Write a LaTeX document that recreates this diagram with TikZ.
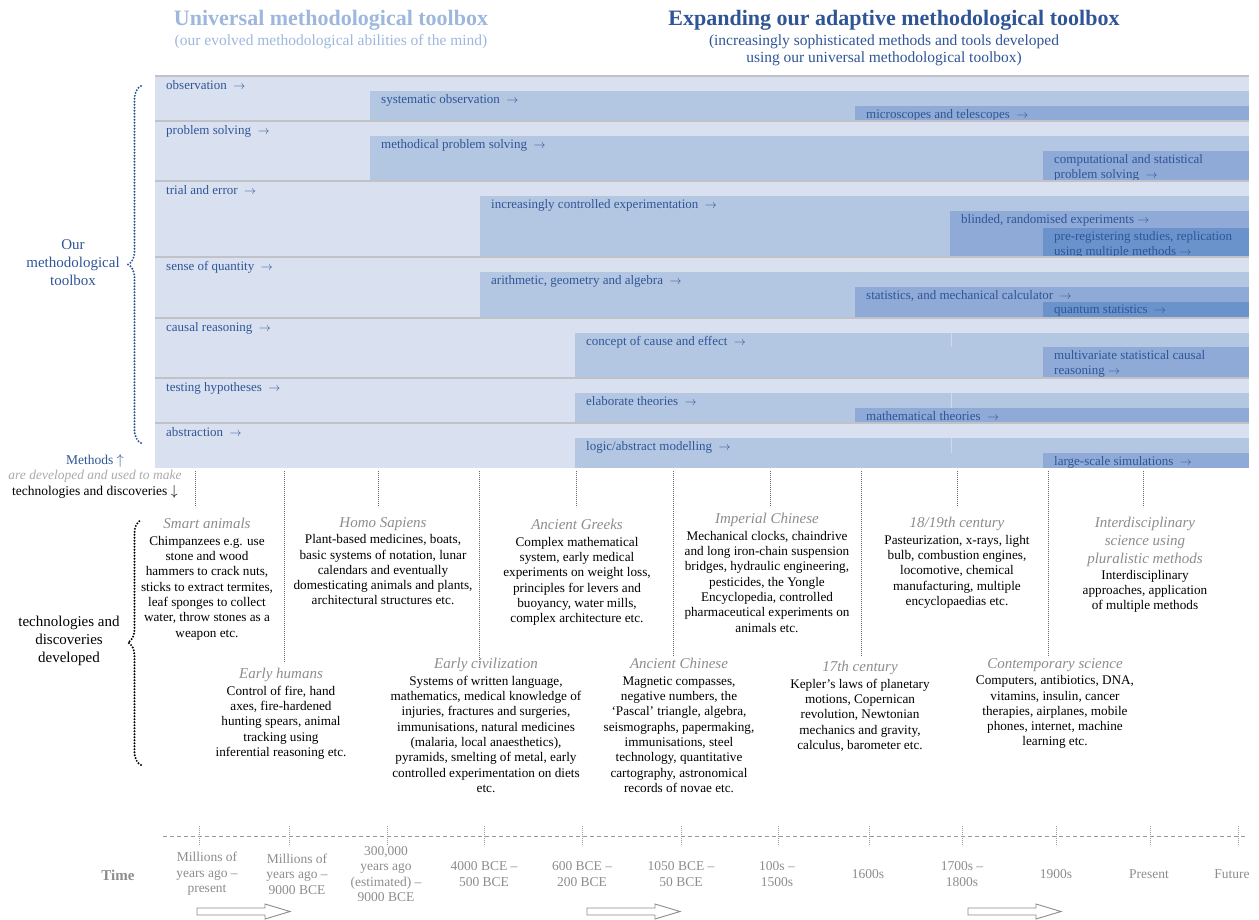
\documentclass[tikz,border=0pt]{standalone}
\usepackage{fontspec}
\setmainfont{Liberation Serif}
\usepackage{xcolor}
\usepackage{tikz}
\usetikzlibrary{decorations.pathreplacing}
\definecolor{bandA}{RGB}{217,225,240}
\definecolor{bandB}{RGB}{180,199,226}
\definecolor{bandC}{RGB}{143,170,214}
\definecolor{bandD}{RGB}{106,147,204}
\definecolor{sepgray}{RGB}{192,194,200}
\definecolor{toolblue}{RGB}{47,85,151}
\definecolor{paleblue}{RGB}{157,183,221}
\definecolor{capgray}{RGB}{140,140,140}
\definecolor{timegray}{RGB}{140,140,140}
\definecolor{softgray}{RGB}{170,170,170}
\newcommand{\eratitle}[1]{{\fontsize{15}{17.5}\selectfont\itshape\color{capgray}#1}}

\begin{document}
\begin{tikzpicture}[x=1pt,y=-1pt,
  rowtxt/.style={anchor=north west,inner sep=0pt,align=left,text=toolblue,font=\fontsize{13}{15}\selectfont},
  era/.style={anchor=north,inner sep=0pt,align=center,font=\fontsize{13.2}{15.3}\selectfont},
  timelbl/.style={inner sep=0pt,align=center,text=timegray,font=\fontsize{13.5}{15.5}\selectfont},
  guide/.style={draw=black!60,line width=0.9pt,dash pattern=on 0.9pt off 1.1pt},
  sepline/.style={draw=sepgray,line width=1.5pt},
  faint/.style={draw=bandA!70!bandB,line width=0.8pt},
  bracedots/.style={decorate,decoration={brace,amplitude=13pt},line width=2.2pt,dash pattern=on 0pt off 3pt,line cap=round},
  hollowarrow/.style={draw=black!45,line width=0.9pt,line join=miter}]
\useasboundingbox (0,0) rectangle (1259,920);

% headings
\node[font=\fontsize{22}{26}\selectfont\bfseries,text=paleblue] (unihead) at (331,20) {Universal methodological toolbox};
\node[font=\fontsize{15.5}{17}\selectfont,text=paleblue] (unisub) at (331,42) {(our evolved methodological abilities of the mind)};
\node[font=\fontsize{22}{26}\selectfont\bfseries,text=toolblue] (exphead) at (894,20) {Expanding our adaptive methodological toolbox};
\node[font=\fontsize{15.5}{17}\selectfont,text=toolblue,align=center] (expsub) at (884,50.5) {(increasingly sophisticated methods and tools developed\\using our universal methodological toolbox)};

% toolbox rows
\foreach \t/\b/\lbl in {76/121/observation,121/181/problem solving,181/257/trial and error,257/318/sense of quantity,318/378/causal reasoning,378/423/testing hypotheses,423/468/abstraction}{
  \fill[bandA] (155,\t) rectangle (1249,\b);
  \node[rowtxt] (row\t) at (166,\t+4) {\lbl~~$\rightarrow$};
}

\fill[bandB] (370,91) rectangle (1249,121);
\node[rowtxt] (sysobs) at (381,94) {systematic observation~~$\rightarrow$};
\fill[bandC] (855,106) rectangle (1249,121);
\node[rowtxt] (scopes) at (866,109) {microscopes and telescopes~~$\rightarrow$};

\fill[bandB] (370,136) rectangle (1249,181);
\node[rowtxt] (methsolve) at (381,139) {methodical problem solving~~$\rightarrow$};
\fill[bandC] (1043,151) rectangle (1249,181);
\node[rowtxt] (compsolve) at (1054,154) {computational and statistical\\problem solving~~$\rightarrow$};

\fill[bandB] (480,196) rectangle (1249,257);
\node[rowtxt] (ctrlexp) at (491,199) {increasingly controlled experimentation~~$\rightarrow$};
\fill[bandC] (950,211) rectangle (1249,257);
\node[rowtxt] (blinded) at (961,214) {blinded, randomised experiments $\rightarrow$};
\fill[bandD] (1043,228) rectangle (1249,257);
\node[rowtxt] (prereg) at (1054,231) {pre-registering studies, replication\\using multiple methods $\rightarrow$};

\fill[bandB] (480,272) rectangle (1249,318);
\node[rowtxt] (arith) at (491,275) {arithmetic, geometry and algebra~~$\rightarrow$};
\fill[bandC] (855,287) rectangle (1249,318);
\node[rowtxt] (stats) at (866,290) {statistics, and mechanical calculator~~$\rightarrow$};
\fill[bandD] (1043,302) rectangle (1249,318);
\node[rowtxt] (quantum) at (1054,305) {quantum statistics~~$\rightarrow$};

\fill[bandB] (575,333) rectangle (1249,378);
\node[rowtxt] (cause) at (586,336) {concept of cause and effect~~$\rightarrow$};
\fill[bandC] (1043,347) rectangle (1249,378);
\node[rowtxt] (multivar) at (1054,350) {multivariate statistical causal\\reasoning $\rightarrow$};

\fill[bandB] (575,393) rectangle (1249,423);
\node[rowtxt] (theories) at (586,396) {elaborate theories~~$\rightarrow$};
\fill[bandC] (855,408) rectangle (1249,423);
\node[rowtxt] (maththeo) at (866,411) {mathematical theories~~$\rightarrow$};

\fill[bandB] (575,438) rectangle (1249,468);
\node[rowtxt] (logic) at (586,441) {logic/abstract modelling~~$\rightarrow$};
\fill[bandC] (1043,453) rectangle (1249,468);
\node[rowtxt] (simul) at (1054,456) {large-scale simulations~~$\rightarrow$};

\foreach \t/\b in {333/347,393/408,438/453}
  \draw[faint] (951,\t) -- (951,\b);
\foreach \t in {76,121,181,257,318,378,423}
  \draw[sepline] (155,\t) -- (1249,\t);

% left side
\draw[bracedots,draw=toolblue] (141,443) -- (141,86);
\node[font=\fontsize{15}{18}\selectfont,text=toolblue,align=center] (ourbox) at (73,263) {Our\\methodological\\toolbox};
\node[font=\fontsize{13.5}{15.5}\selectfont,align=center] (methods) at (95,476) {{\color{toolblue}Methods $\uparrow$}\\{\itshape\color{softgray}are developed and used to make}\\technologies and discoveries $\downarrow$};
\draw[bracedots,draw=black] (141,765) -- (141,520);
\node[font=\fontsize{15}{18}\selectfont,align=center] (techlbl) at (69,641) {technologies and\\discoveries\\developed};

% guide lines
\foreach \x/\y in {195/507,284/663,378/507,479/662,576/507,673/657,770/507,861/657,957/507,1048/657,1143/507}
  \draw[guide] (\x,471) -- (\x,\y);

% eras
\node[era] (smart) at (207,518) {\eratitle{Smart animals}\\[1.3pt]Chimpanzees e.g. use\\stone and wood\\hammers to crack nuts,\\sticks to extract termites,\\leaf sponges to collect\\water, throw stones as a\\weapon etc.};
\node[era] (homo) at (383,517) {\eratitle{Homo Sapiens}\\[1.3pt]Plant-based medicines, boats,\\basic systems of notation, lunar\\calendars and eventually\\domesticating animals and plants,\\architectural structures etc.};
\node[era] (greeks) at (577,519) {\eratitle{Ancient Greeks}\\[1.3pt]Complex mathematical\\system, early medical\\experiments on weight loss,\\principles for levers and\\buoyancy, water mills,\\complex architecture etc.};
\node[era] (imperial) at (767,513) {\eratitle{Imperial Chinese}\\[1.3pt]Mechanical clocks, chaindrive\\and long iron-chain suspension\\bridges, hydraulic engineering,\\pesticides, the Yongle\\Encyclopedia, controlled\\pharmaceutical experiments on\\animals etc.};
\node[era] (industry) at (957,517) {\eratitle{18/19th century}\\[1.3pt]Pasteurization, x-rays, light\\bulb, combustion engines,\\locomotive, chemical\\manufacturing, multiple\\encyclopaedias etc.};
\node[era] (interdis) at (1145,517) {\eratitle{Interdisciplinary}\\[2.7pt]\eratitle{science using}\\[2.7pt]\eratitle{pluralistic methods}\\[0.3pt]Interdisciplinary\\approaches, application\\of multiple methods};
\node[era] (earlyhum) at (281,668) {\eratitle{Early humans}\\[1.3pt]Control of fire, hand\\axes, fire-hardened\\hunting spears, animal\\tracking using\\inferential reasoning etc.};
\node[era] (earlyciv) at (486,658) {\eratitle{Early civilization}\\[1.3pt]Systems of written language,\\mathematics, medical knowledge of\\injuries, fractures and surgeries,\\immunisations, natural medicines\\(malaria, local anaesthetics),\\pyramids, smelting of metal, early\\controlled experimentation on diets\\etc.};
\node[era] (ancchin) at (679,658) {\eratitle{Ancient Chinese}\\[1.3pt]Magnetic compasses,\\negative numbers, the\\‘Pascal’ triangle, algebra,\\seismographs, papermaking,\\immunisations, steel\\technology, quantitative\\cartography, astronomical\\records of novae etc.};
\node[era] (century17) at (860,661) {\eratitle{17th century}\\[1.3pt]Kepler’s laws of planetary\\motions, Copernican\\revolution, Newtonian\\mechanics and gravity,\\calculus, barometer etc.};
\node[era] (contemp) at (1055,658) {\eratitle{Contemporary science}\\[1.3pt]Computers, antibiotics, DNA,\\vitamins, insulin, cancer\\therapies, airplanes, mobile\\phones, internet, machine\\learning etc.};

% time axis
\draw[draw=black!40,line width=0.8pt,dash pattern=on 4pt off 3pt] (163,836) -- (1245,836);
\foreach \x in {199,289,387,484,582,681,778,869,962,1056,1150,1238}
  \draw[guide,draw=black!40] (\x,826) -- (\x,846);
\node[font=\fontsize{15}{18}\selectfont\bfseries,text=timegray] (timehead) at (118,875) {Time};
\foreach \x/\txt in {207/{Millions of\\years ago –\\present},297/{Millions of\\years ago –\\9000 BCE},386/{300,000\\years ago\\(estimated) –\\9000 BCE},484/{4000 BCE –\\500 BCE},582/{600 BCE –\\200 BCE},681/{1050 BCE –\\50 BCE},777/{100s –\\1500s},868/{1600s},962/{1700s –\\1800s},1056/{1900s},1149/{Present},1232/{Future}}
  \node[timelbl] (t\x) at (\x,874) {\txt};
\foreach \x in {197,587,968}
  \draw[hollowarrow] (\x,908) -- ++(68,0) -- ++(0,-4) -- ++(25,7.5) -- ++(-25,7.5) -- ++(0,-4) -- ++(-68,0) -- cycle;
\end{tikzpicture}
\end{document}
